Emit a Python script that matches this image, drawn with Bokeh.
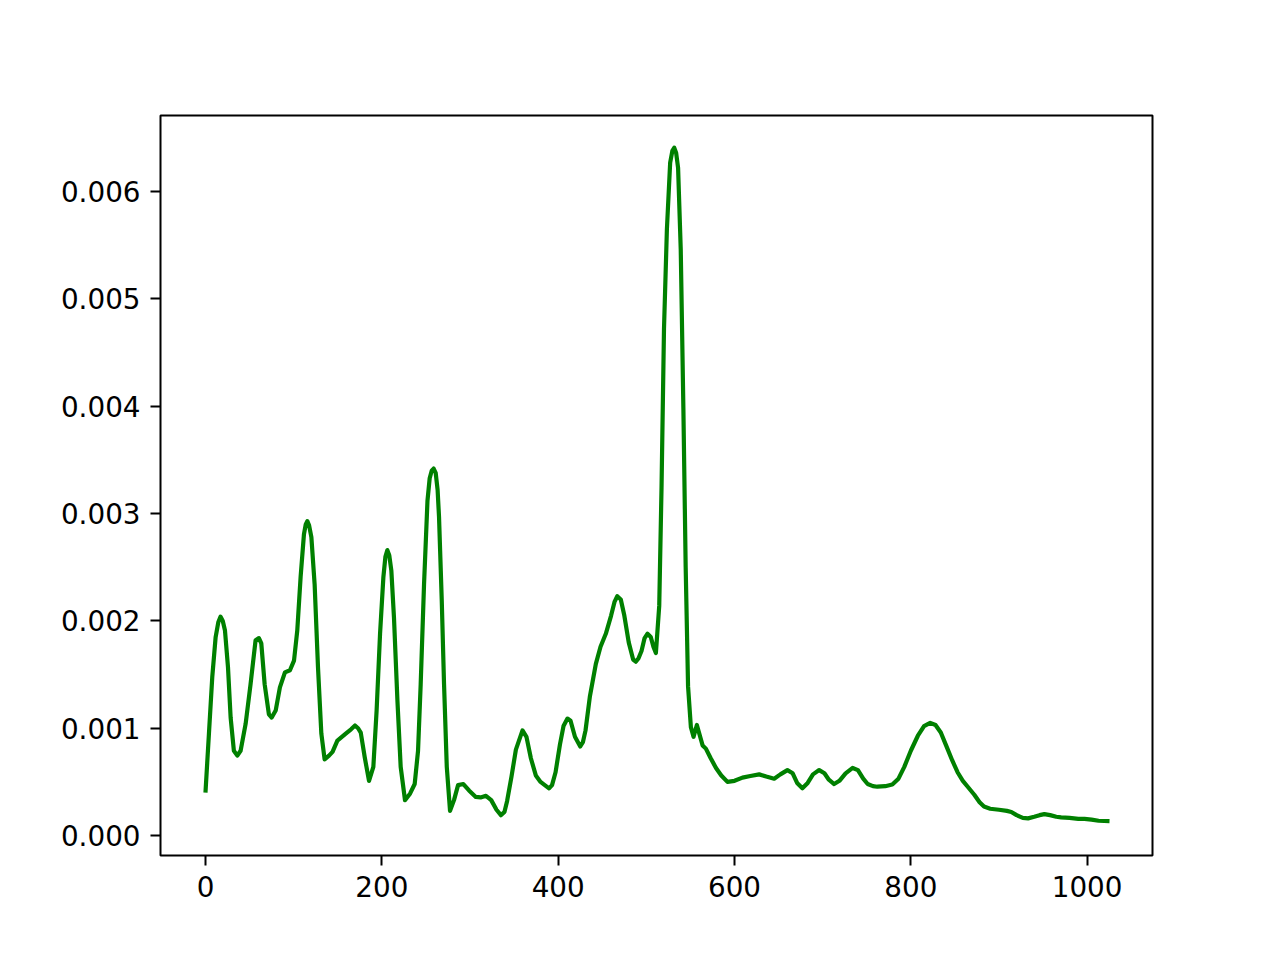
from bokeh.plotting import figure
from bokeh.embed import file_html
from bokeh.resources import INLINE
from bokeh.models import Range1d, FixedTicker, NumeralTickFormatter

# Curve values (x, y in units of 0.001)
x_vals = [0, 3.8, 7.6, 11.4, 14.5, 17, 19.5, 22, 25.4, 28.4, 32.1, 36, 39.7, 45.4, 51, 56.7,
          60.5, 63.2, 67, 71.8, 75, 79.5, 84.3, 90, 95.7, 100.3, 104, 107.8, 111.6, 113.6,
          115.4, 117.4, 120, 123.7, 127.5, 131.3, 135, 140, 144, 149.5, 159, 165, 169.5, 173,
          176, 180.5, 185.4, 190.3, 194, 197.9, 201.7, 204, 206.2, 208.4, 210.7, 213.7, 217.6,
          221.3, 226.2, 231.9, 237.2, 241, 244, 247.8, 251.7, 254.2, 256.5, 258.7, 261,
          263.2, 264.8, 267.9, 270.5, 273.6, 277.3, 281.8, 286.4, 292.4, 298.8, 306.5, 312,
          318, 324, 330, 335, 339, 342, 347, 352, 359.5, 364, 369, 374.6, 380, 384, 389.6,
          393, 397, 402, 406, 410.5, 414, 419, 425, 428, 431, 436, 442.7, 448, 454, 460, 464,
          467, 471, 475, 480, 485, 488, 491, 494.5, 498, 501.3, 505, 508, 510.8, 514.6, 517.2,
          520, 523.3, 527, 529.5, 531.6, 533.8, 536, 539, 542, 544.6, 547.3, 550.5, 553.5,
          557.3, 563.8, 567.5, 573, 579, 585, 592, 600, 609, 618, 628, 636, 645, 652, 660,
          666, 671, 677, 683, 689, 696, 702, 707, 713, 719, 726, 734, 740, 746, 751, 757, 762,
          771, 779, 786, 792.6, 800, 808, 815, 822, 828, 834, 840, 847, 853, 859, 865, 872,
          878, 883, 890, 900, 909, 914, 920, 927, 933, 940, 946, 951.5, 958, 965, 970.5, 980,
          990, 997, 1005, 1013, 1023]
y_vals_milli = [0.42, 0.95, 1.48, 1.85, 1.99, 2.04, 2.00, 1.91, 1.57, 1.10, 0.79, 0.745, 0.79,
                1.04, 1.41, 1.82, 1.84, 1.79, 1.41, 1.13, 1.10, 1.165, 1.38, 1.52, 1.54, 1.63,
                1.91, 2.41, 2.81, 2.90, 2.93, 2.89, 2.78, 2.34, 1.57, 0.95, 0.71, 0.745, 0.78,
                0.885, 0.95, 0.99, 1.025, 1.0, 0.96, 0.73, 0.51, 0.64, 1.165, 1.88, 2.41, 2.60,
                2.66, 2.61, 2.47, 2.03, 1.26, 0.64, 0.33, 0.39, 0.48, 0.79, 1.41, 2.34, 3.12,
                3.33, 3.40, 3.42, 3.38, 3.22, 2.97, 2.19, 1.41, 0.64, 0.23, 0.33, 0.47, 0.48,
                0.42, 0.36, 0.355, 0.37, 0.33, 0.24, 0.19, 0.22, 0.32, 0.55, 0.80, 0.98, 0.92,
                0.72, 0.56, 0.50, 0.475, 0.44, 0.47, 0.59, 0.85, 1.02, 1.09, 1.07, 0.92, 0.83,
                0.87, 0.98, 1.30, 1.60, 1.76, 1.88, 2.05, 2.18, 2.23, 2.20, 2.05, 1.80, 1.64,
                1.62, 1.65, 1.72, 1.84, 1.88, 1.85, 1.76, 1.70, 2.14, 3.24, 4.72, 5.65, 6.27,
                6.38, 6.41, 6.36, 6.22, 5.46, 3.98, 2.50, 1.39, 1.01, 0.92, 1.03, 0.84, 0.81,
                0.72, 0.63, 0.56, 0.50, 0.51, 0.54, 0.555, 0.57, 0.55, 0.53, 0.57, 0.61, 0.58,
                0.49, 0.44, 0.49, 0.57, 0.61, 0.58, 0.52, 0.48, 0.51, 0.58, 0.63, 0.61, 0.53,
                0.48, 0.46, 0.455, 0.46, 0.475, 0.53, 0.64, 0.79, 0.93, 1.02, 1.05, 1.03, 0.96,
                0.84, 0.70, 0.59, 0.51, 0.45, 0.38, 0.31, 0.27, 0.25, 0.24, 0.23, 0.22, 0.19,
                0.165, 0.16, 0.175, 0.19, 0.20, 0.19, 0.175, 0.17, 0.165, 0.155, 0.155, 0.148,
                0.138, 0.135]
y_vals = [v / 1000.0 for v in y_vals_milli]

x_ticks = [0, 200, 400, 600, 800, 1000]
y_ticks = [0.000, 0.001, 0.002, 0.003, 0.004, 0.005, 0.006]

p = figure(width=1264, height=944, output_backend="svg", toolbar_location=None,
           x_range=Range1d(-51.15, 1074.15), y_range=Range1d(-0.000186, 0.00671),
           min_border_left=160, min_border_right=112, min_border_top=115, min_border_bottom=89)

p.line(x_vals, y_vals, line_color="#008000", line_width=4.2, line_join="round", line_cap="square")

p.background_fill_color = "white"
p.border_fill_color = "white"
p.outline_line_color = "black"
p.outline_line_width = 2
p.xgrid.visible = False
p.ygrid.visible = False

for ax in (p.xaxis[0], p.yaxis[0]):
    ax.axis_line_color = None
    ax.major_tick_out = 10
    ax.major_tick_in = 0
    ax.major_tick_line_width = 2
    ax.minor_tick_line_color = None
    ax.major_label_text_font = "DejaVu Sans"
    ax.major_label_text_font_size = "27.8px"
    ax.major_label_text_color = "black"
    ax.major_label_standoff = 10

p.xaxis[0].ticker = FixedTicker(ticks=x_ticks)
p.yaxis[0].ticker = FixedTicker(ticks=y_ticks)
p.yaxis[0].formatter = NumeralTickFormatter(format="0.000")

open("out.html", "w").write(file_html(p, INLINE))
